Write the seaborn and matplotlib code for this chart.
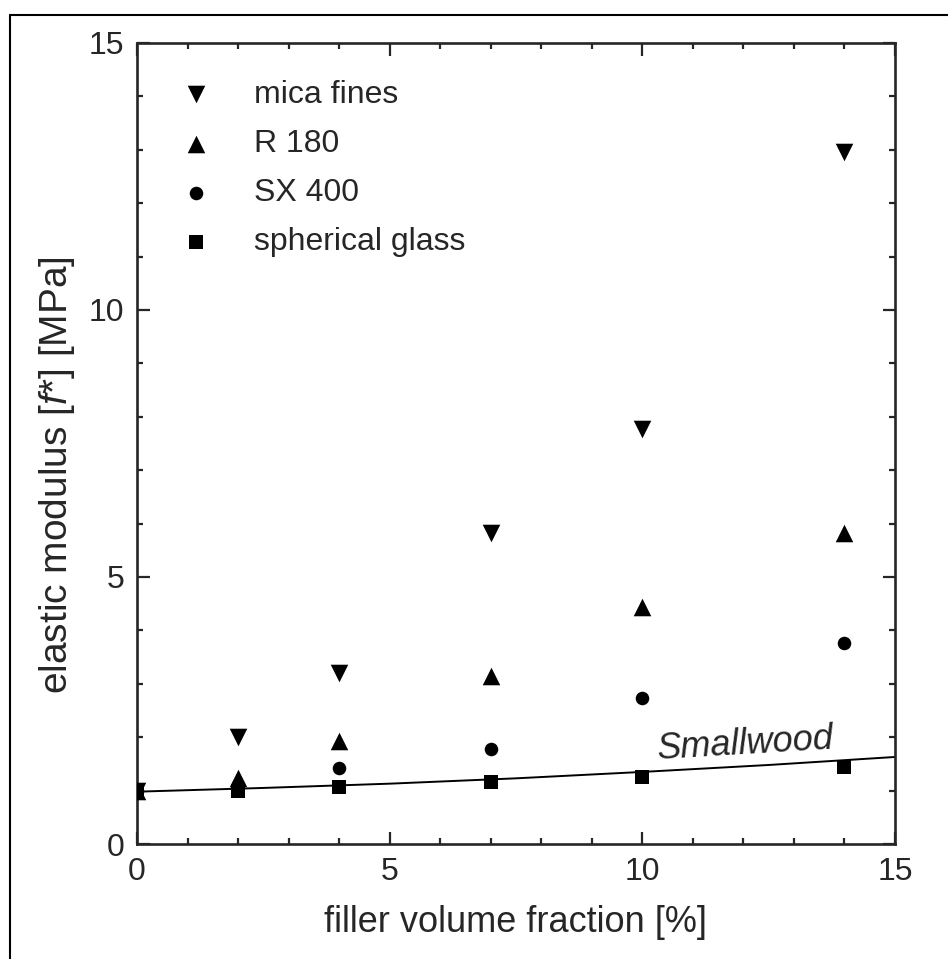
import numpy as np
import pandas as pd
import matplotlib
matplotlib.use("Agg")
import matplotlib.pyplot as plt
from matplotlib.lines import Line2D
from matplotlib.ticker import MultipleLocator
import seaborn as sns

# values
filler = [0, 2, 4, 7, 10, 14]
mica_fines = [1.0, 2.0, 3.21, 5.83, 7.77, 12.96]
r180 = [1.0, 1.24, 1.93, 3.15, 4.43, 5.82]
sx400 = [1.0, 1.1, 1.43, 1.78, 2.74, 3.77]
spherical_glass = [0.98, 0.99, 1.07, 1.16, 1.26, 1.45]

# Smallwood model curve
smallwood_x = [0, 2.5, 5, 7.5, 10, 12.5, 15]
smallwood_y = [0.98, 1.05, 1.13, 1.23, 1.35, 1.48, 1.63]

series = [
    ("mica fines", mica_fines, "v", 160),
    ("R 180", r180, "^", 160),
    ("SX 400", sx400, "o", 95),
    ("spherical glass", spherical_glass, "s", 95),
]

sns.set_style("ticks")
plt.rcParams["font.family"] = ["Liberation Sans", "DejaVu Sans"]
plt.rcParams["mathtext.fontset"] = "custom"
plt.rcParams["mathtext.rm"] = "Liberation Sans"
plt.rcParams["mathtext.it"] = "Liberation Sans:italic"

fig = plt.figure(figsize=(9.48, 9.59), dpi=100)
ax = fig.add_axes([0.1445, 0.1199, 0.7996, 0.8353])

for name, vals, mk, sz in series:
    df = pd.DataFrame({"x": filler, "y": vals})
    sns.scatterplot(data=df, x="x", y="y", marker=mk, s=sz, color="black",
                    linewidth=0, label=name, ax=ax, zorder=3)

line_df = pd.DataFrame({"x": smallwood_x, "y": smallwood_y})
sns.lineplot(data=line_df, x="x", y="y", color="black", linewidth=1.4,
             ax=ax, legend=False, zorder=2)

ax.text(10.3, 1.6, "Smallwood", fontsize=26, style="italic",
        rotation=3.4, rotation_mode="anchor", ha="left", va="baseline")

ax.set_xlim(0, 15)
ax.set_ylim(0, 15)
ax.xaxis.set_major_locator(MultipleLocator(5))
ax.xaxis.set_minor_locator(MultipleLocator(1))
ax.yaxis.set_major_locator(MultipleLocator(5))
ax.yaxis.set_minor_locator(MultipleLocator(1))
ax.tick_params(which="both", direction="in", top=True, right=True,
               width=1.6, labelsize=23, pad=9)
ax.tick_params(which="major", length=9)
ax.tick_params(which="minor", length=4.5)
for sp in ax.spines.values():
    sp.set_linewidth(1.9)

ax.set_xlabel("filler volume fraction [%]", fontsize=26, labelpad=13)
ax.set_ylabel("elastic modulus [$f$*] [MPa]", fontsize=28)
ax.yaxis.set_label_coords(-0.079, 0.46)

leg = ax.legend(loc="upper left", bbox_to_anchor=(0.04, 0.97), frameon=False,
                fontsize=23, handletextpad=1.3, labelspacing=0.6,
                borderaxespad=0, handlelength=1.0)

# outer frame of the scanned figure (top and left edges)
fig.add_artist(Line2D([10 / 948, 1.0], [1 - 15 / 959, 1 - 15 / 959],
                      transform=fig.transFigure, color="black", linewidth=1.5))
fig.add_artist(Line2D([10 / 948, 10 / 948], [0, 1 - 15 / 959],
                      transform=fig.transFigure, color="black", linewidth=1.5))

fig.savefig("out.png", dpi=100)
